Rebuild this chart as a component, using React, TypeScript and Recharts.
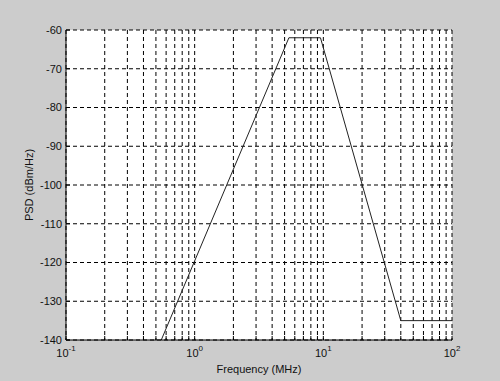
import { CartesianGrid, Label, Line, LineChart, XAxis, YAxis } from 'recharts'

// PSD mask, frequency in MHz, level in dBm/Hz
const freqMHz = [0.55, 5.4, 9.5, 40, 100]
const psdDbm = [-140, -62, -62, -135, -135]

const xTicks = [
  0.1, 0.2, 0.3, 0.4, 0.5, 0.6, 0.7, 0.8, 0.9,
  1, 2, 3, 4, 5, 6, 7, 8, 9,
  10, 20, 30, 40, 50, 60, 70, 80, 90,
  100,
]
const decadeExp: Record<string, string> = { '0.1': '-1', '1': '0', '10': '1', '100': '2' }
const yTicks = [-140, -130, -120, -110, -100, -90, -80, -70, -60]

const data = freqMHz.map((f, i) => ({ f, psd: psdDbm[i] }))

const FONT = '"Liberation Sans", Arial, sans-serif'
const TICK = 4

function BottomTick({ x, y, payload }: any) {
  const exp = decadeExp[String(payload.value)]
  return (
    <g>
      <line x1={x} y1={y} x2={x} y2={y - TICK} stroke="#000" />
      {exp !== undefined && (
        <text x={x} y={y + 17} textAnchor="middle" fontSize={11} fontFamily={FONT} fill="#111">
          10<tspan dy={-6} fontSize={8}>{exp}</tspan>
        </text>
      )}
    </g>
  )
}

function TopTick({ x, y }: any) {
  return <line x1={x} y1={y} x2={x} y2={y + TICK} stroke="#000" />
}

function LeftTick({ x, y, payload }: any) {
  return (
    <g>
      <line x1={x} y1={y} x2={x + TICK} y2={y} stroke="#000" />
      <text x={x - 4} y={y} dy="0.35em" textAnchor="end" fontSize={11} fontFamily={FONT} fill="#111">
        {payload.value}
      </text>
    </g>
  )
}

function RightTick({ x, y }: any) {
  return <line x1={x} y1={y} x2={x - TICK} y2={y} stroke="#000" />
}

export default function App() {
  return (
    <div style={{ position: 'absolute', left: 0, top: 0, width: 500, height: 381, background: '#cccccc' }}>
      <LineChart
        width={500}
        height={381}
        data={data}
        margin={{ top: 30, right: 48, bottom: 11, left: 26 }}
      >
        <CartesianGrid stroke="#000" strokeDasharray="4 3" fill="#fff" fillOpacity={1} />
        <XAxis
          dataKey="f"
          type="number"
          scale="log"
          domain={[0.1, 100]}
          ticks={xTicks}
          allowDataOverflow
          height={30}
          tickSize={0}
          tickMargin={0}
          tick={BottomTick}
          tickLine={false}
          axisLine={{ stroke: '#000' }}
          interval={0}
        >
          <Label
            content={({ viewBox }: any) => (
              <text
                x={viewBox.x + viewBox.width / 2}
                y={viewBox.y + 33}
                textAnchor="middle"
                fontSize={11}
                fontFamily={FONT}
                fill="#111"
              >
                Frequency (MHz)
              </text>
            )}
          />
        </XAxis>
        <XAxis
          xAxisId="top"
          orientation="top"
          type="number"
          scale="log"
          domain={[0.1, 100]}
          ticks={xTicks}
          allowDataOverflow
          height={0}
          tickSize={0}
          tickMargin={0}
          tick={TopTick}
          tickLine={false}
          axisLine={{ stroke: '#000' }}
          interval={0}
        />
        <YAxis
          type="number"
          domain={[-140, -60]}
          ticks={yTicks}
          allowDataOverflow
          width={40}
          tickSize={0}
          tickMargin={0}
          tick={LeftTick}
          tickLine={false}
          axisLine={{ stroke: '#000' }}
          interval={0}
        >
          <Label
            content={({ viewBox }: any) => {
              const cx = viewBox.x + 3
              const cy = viewBox.y + viewBox.height / 2
              return (
                <text
                  x={cx}
                  y={cy}
                  dy="0.35em"
                  transform={`rotate(-90, ${cx}, ${cy})`}
                  textAnchor="middle"
                  fontSize={11}
                  fontFamily={FONT}
                  fill="#111"
                >
                  PSD (dBm/Hz)
                </text>
              )
            }}
          />
        </YAxis>
        <YAxis
          yAxisId="right"
          orientation="right"
          type="number"
          domain={[-140, -60]}
          ticks={yTicks}
          allowDataOverflow
          width={0}
          tickSize={0}
          tickMargin={0}
          tick={RightTick}
          tickLine={false}
          axisLine={{ stroke: '#000' }}
          interval={0}
        />
        <Line
          dataKey="psd"
          type="linear"
          stroke="#222"
          strokeWidth={1}
          dot={false}
          isAnimationActive={false}
        />
      </LineChart>
    </div>
  )
}
